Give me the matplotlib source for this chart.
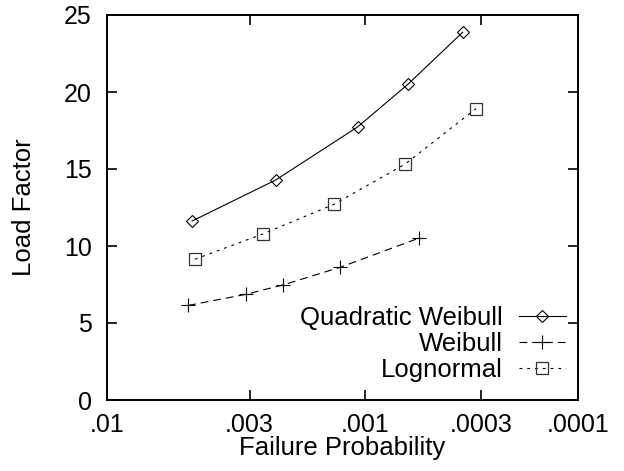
import numpy as np
import matplotlib
matplotlib.use("Agg")
import matplotlib.pyplot as plt
from statistics import NormalDist

plt.rcParams['font.family'] = ['Liberation Sans', 'DejaVu Sans']

# failure probability (x) and load factor (y) for each model
qw_prob = [0.00497, 0.00236, 0.00108, 0.00065, 0.000365]
qw_load = [11.62, 14.29, 17.73, 20.5, 23.88]

wb_prob = [0.00514, 0.00310, 0.00221, 0.00128, 0.000582]
wb_load = [6.14, 6.86, 7.47, 8.62, 10.5]

ln_prob = [0.00485, 0.00266, 0.00136, 0.00067, 0.000316]
ln_load = [9.14, 10.78, 12.71, 15.31, 18.92]

xticks = [0.01, 0.003, 0.001, 0.0003, 0.0001]
xtick_labels = ['.01', '.003', '.001', '.0003', '.0001']
yticks = [0, 5, 10, 15, 20, 25]

nd = NormalDist()
_inv = np.vectorize(lambda p: nd.inv_cdf(p) if 0 < p < 1 else np.nan, otypes=[float])
_cdf = np.vectorize(lambda z: nd.cdf(z), otypes=[float])


def forward(p):
    # normal probability scale
    p = np.clip(np.asarray(p, dtype=float), 1e-15, 1 - 1e-15)
    return _inv(p)


def inverse(z):
    return _cdf(np.asarray(z, dtype=float))


fig = plt.figure(figsize=(6.24, 4.71), dpi=100)
ax = fig.add_axes([107 / 624, 71 / 471, 471 / 624, 385 / 471])
ax.set_xscale('function', functions=(forward, inverse))

ax.plot(qw_prob, qw_load, color='black', lw=0.8, ls='-', marker='D', ms=6.4,
        mfc='none', mec='black', mew=0.8, label='Quadratic Weibull')
ax.plot(wb_prob, wb_load, color='black', lw=0.8, ls=(0, (7, 4.5)), marker='+', ms=9.5,
        mew=0.8, label='Weibull')
ax.plot(ln_prob, ln_load, color='black', lw=0.8, ls=(0, (2.5, 4.5)), marker='s', ms=8.5,
        mfc='none', mec='#333333', mew=0.9, label='Lognormal')

ax.set_xlim(0.01, 0.0001)
ax.set_ylim(0, 25)
ax.set_xticks(xticks)
ax.set_xticklabels(xtick_labels)
ax.xaxis.set_minor_locator(matplotlib.ticker.NullLocator())
ax.set_yticks(yticks)

ax.tick_params(direction='in', length=7.5, width=1.2, top=True, right=True,
               labelsize=18)
ax.tick_params(axis='x', pad=9)
ax.tick_params(axis='y', pad=11)
for s in ax.spines.values():
    s.set_linewidth(1.4)

ax.set_xlabel('Failure Probability', fontsize=18.5, labelpad=0)
ax.set_ylabel('Load Factor', fontsize=18.5, labelpad=20)

leg = ax.legend(loc='lower right', bbox_to_anchor=(1.002, 0.014), frameon=False,
                markerfirst=False, fontsize=18.5, handlelength=1.85,
                handletextpad=0.6, labelspacing=0.08, borderpad=0)

plt.savefig('out.png', dpi=100, facecolor='white')
